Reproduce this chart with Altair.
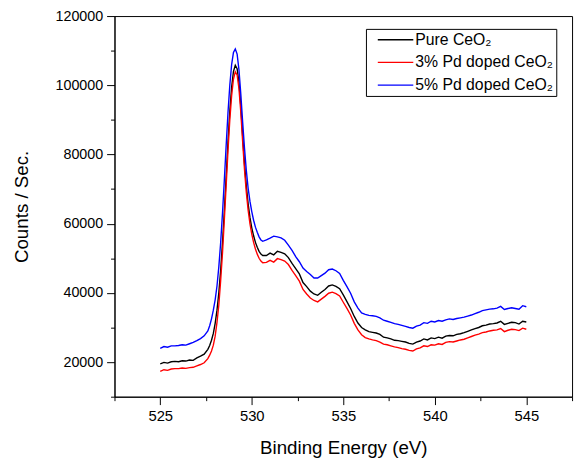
import altair as alt
import numpy as np
import pandas as pd

# ---- data (x: binding energy eV, y: counts/sec) ----
energy_a = [525.0, 525.2, 525.4, 525.6, 525.8, 526.0, 526.2, 526.4, 526.6, 526.8,
            527.0, 527.2, 527.4, 527.6]
energy_b = [527.7, 527.8, 527.9, 528.0, 528.1, 528.2, 528.3, 528.4, 528.5, 528.6,
            528.7, 528.8, 528.9, 529.0, 529.1, 529.2, 529.3, 529.4, 529.5, 529.6,
            529.7, 529.8, 529.9, 530.0, 530.1, 530.2, 530.3, 530.4, 530.5, 530.6]
energy_c = [530.8, 531.0, 531.2, 531.4, 531.6, 531.8, 532.0, 532.2, 532.4, 532.6,
            532.8, 533.0, 533.2, 533.4, 533.6, 533.8, 534.0, 534.2, 534.4, 534.6,
            534.8, 535.0, 535.2, 535.4, 535.6, 535.8, 536.0, 536.2, 536.4, 536.6,
            536.8, 537.0, 537.2, 537.4, 537.6, 537.8, 538.0, 538.2, 538.4, 538.6,
            538.8, 539.0, 539.2, 539.4, 539.6, 539.8, 540.0, 540.2, 540.4, 540.6,
            540.8, 541.0, 541.2, 541.4, 541.6, 541.8, 542.0, 542.2, 542.4, 542.6,
            542.8, 543.0, 543.2, 543.4, 543.6, 543.8, 544.0, 544.2, 544.4, 544.6,
            544.8, 545.0]

pure_ceo2 = [
    19500, 19900, 19700, 20100, 20200, 20100, 20400, 20300, 20600, 20500,
    21200, 21700, 22300, 23700,
    24800, 26300, 28300, 31200, 35000, 40000, 46500, 54500, 63500, 73500,
    83500, 92500, 99500, 104000, 105800, 104800, 100800, 94000, 85500, 77500,
    71000, 65800, 61800, 58800, 56500, 54600, 53200, 52000, 51200, 50800,
    50800, 51500, 51000, 52000, 51700, 51300, 50200, 48500, 47000, 45500,
    43000, 41800, 40500, 39700, 39300, 40200, 41000, 42000, 42300, 41900,
    41200, 39400, 37500, 35500, 33200, 31300, 30000, 29300, 28800, 28600,
    28400, 28000, 27200, 27000, 26700, 26300, 26200, 26000, 25800, 25400,
    25200, 25800, 26100, 26700, 26400, 27000, 26800, 27200, 26900, 27500,
    27700, 27600, 28000, 28200, 28500, 28900, 29300, 29700, 30000, 30500,
    30700, 31000, 31100, 31300, 31800, 30900, 31200, 31500, 31400, 31000,
    31800, 31600]

pd3_ceo2 = [
    17300, 17800, 17600, 18000, 18100, 18100, 18300, 18200, 18400, 18500,
    18900, 19300, 19800, 21000,
    22000, 23200, 24900, 27500, 31500, 36500, 43500, 51500, 61000, 71000,
    81000, 90000, 97000, 101800, 103900, 103000, 99000, 92300, 83800, 75800,
    69200, 64000, 60000, 57000, 54600, 52700, 51200, 50000, 49200, 48700,
    48800, 49400, 48900, 49900, 49600, 49200, 48200, 46500, 45000, 43400,
    41000, 39700, 38500, 37800, 37400, 38200, 39000, 39900, 40200, 39800,
    39100, 37300, 35500, 33600, 31200, 29300, 27900, 27100, 26700, 26400,
    26200, 25800, 25200, 25000, 24700, 24400, 24200, 23900, 23700, 23400,
    23200, 23800, 24100, 24700, 24500, 25000, 24900, 25300, 25100, 25700,
    25900, 25800, 26100, 26400, 26600, 27000, 27400, 27800, 28100, 28500,
    28700, 29000, 29200, 29300, 29700, 28800, 29200, 29500, 29400, 29100,
    29800, 29500]

pd5_ceo2 = [
    24000, 24500, 24300, 24700, 24700, 24800, 25000, 24900, 25300, 25700,
    26200, 26800, 27600, 29000,
    30500, 32500, 35000, 38000, 42000, 47500, 54500, 63000, 72500, 82500,
    92000, 100000, 106000, 109500, 110500, 109000, 104500, 97500, 89500, 82000,
    75500, 70300, 66500, 63500, 61000, 59000, 57500, 56200, 55300, 54900,
    55300, 55800, 56400, 56200, 55900, 55200, 53800, 52300, 50500, 49000,
    47200, 46200, 45300, 44300, 44300, 45000, 45700, 46700, 46900, 46400,
    45600, 43600, 41800, 39900, 37400, 35600, 34200, 33800, 33500, 33400,
    33200, 32800, 32100, 31800, 31500, 31100, 30900, 30600, 30300, 30000,
    29800, 30400, 30700, 31400, 31200, 31800, 31600, 32000, 31800, 32200,
    32500, 32300, 32600, 32800, 33000, 33300, 33600, 34000, 34400, 34900,
    35100, 35300, 35400, 35600, 36100, 35200, 35500, 35700, 35500, 35300,
    36300, 36000]

series_names = ["Pure CeO\u2082", "3% Pd doped CeO\u2082", "5% Pd doped CeO\u2082"]
series_colors = ["#000000", "#ff0000", "#0000ff"]

x_major = [525, 530, 535, 540, 545]
x_minor = [522.5, 527.5, 532.5, 537.5, 542.5, 547.5]
y_major = [20000, 40000, 60000, 80000, 100000, 120000]
y_minor = [10000, 30000, 50000, 70000, 90000, 110000]

energy = energy_a + energy_b + energy_c
frames = []
for name, vals in zip(series_names, [pure_ceo2, pd3_ceo2, pd5_ceo2]):
    frames.append(pd.DataFrame({"energy": energy, "counts": vals, "series": name}))
df = pd.concat(frames, ignore_index=True)

FONT = "Liberation Sans"
xscale = alt.Scale(domain=[522.5, 547.5], nice=False, zero=False)
yscale = alt.Scale(domain=[10000, 120000], nice=False, zero=False)

base = alt.Chart(df)

lines = base.mark_line(strokeWidth=1.4).encode(
    x=alt.X("energy:Q", scale=xscale,
            axis=alt.Axis(values=x_major, title="Binding Energy (eV)", format="d",
                          tickSize=8, labelPadding=4, titleY=52, titleBaseline="middle",
                          labelFontSize=15, titleFontSize=19)),
    y=alt.Y("counts:Q", scale=yscale,
            axis=alt.Axis(values=y_major, title="Counts / Sec.", format="d",
                          tickSize=8, labelPadding=4, titleX=-94, titleY=193,
                          titleAngle=270, titleAlign="center", titleBaseline="middle",
                          labelFontSize=14.5, titleFontSize=19)),
    color=alt.Color("series:N",
                    scale=alt.Scale(domain=series_names, range=series_colors),
                    legend=alt.Legend(title=None, orient="none", legendX=255, legendY=13,
                                      symbolType="M-3,0H3", symbolSize=144,
                                      symbolStrokeWidth=1.4, symbolOffset=19,
                                      padding=3, rowPadding=7, labelOffset=12,
                                      labelFontSize=16, labelFont=FONT, labelLimit=300,
                                      strokeColor="#000000", fillColor="#ffffff")),
)

minor = base.mark_line(opacity=0).encode(
    x=alt.X("energy:Q", scale=xscale,
            axis=alt.Axis(values=x_minor, labels=False, tickSize=4, domain=False,
                          title="", orient="bottom")),
    y=alt.Y("counts:Q", scale=yscale,
            axis=alt.Axis(values=y_minor, labels=False, tickSize=4, domain=False,
                          title="", orient="left")),
    detail="series:N",
)

chart = alt.layer(lines, minor).resolve_scale(x="independent", y="independent").properties(
    width=464, height=386, autosize="none",
    padding={"left": 108, "top": 5, "right": 4, "bottom": 60},
).configure_view(
    stroke="#000000", strokeWidth=1
).configure_axis(
    grid=False, domainColor="#000000", tickColor="#000000", labelColor="#000000",
    titleColor="#000000", labelFont=FONT, titleFont=FONT, titleFontWeight="normal",
    domainWidth=1, tickWidth=1
).configure_legend(
    labelColor="#000000"
)

chart.save("out.html", embed_options={"renderer": "svg", "actions": False})
